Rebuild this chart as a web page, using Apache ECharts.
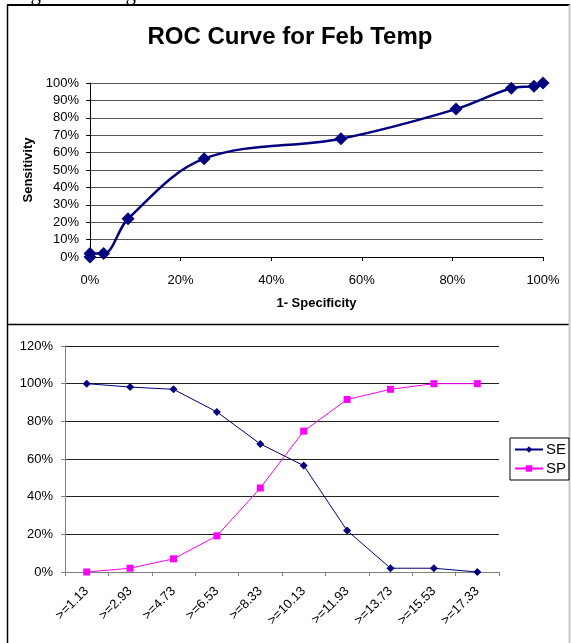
<!DOCTYPE html>
<html>
<head>
<meta charset="utf-8">
<script src="https://cdn.jsdelivr.net/npm/echarts@6/dist/echarts.min.js"></script>
<style>
  html, body { margin: 0; padding: 0; background: #fff; }
  #chart { width: 571px; height: 643px; }
</style>
</head>
<body>
<div id="chart"></div>
<script>
// Cut-off thresholds for February temperature
const thresholds = ['>=1.13', '>=2.93', '>=4.73', '>=6.53', '>=8.33', '>=10.13', '>=11.93', '>=13.73', '>=15.53', '>=17.33'];
// Sensitivity (SE) and specificity (SP) at each threshold, in percent
const sensitivity = [100, 98.2, 97, 85, 68, 56.5, 22, 2, 2, 0];
const specificity = [0, 2, 7, 19.2, 44.6, 74.8, 91.6, 97, 100, 100];
// Axis ticks
const rocTicksX = [0, 20, 40, 60, 80, 100];
const rocTicksY = [0, 10, 20, 30, 40, 50, 60, 70, 80, 90, 100];
const seSpTicksY = [0, 20, 40, 60, 80, 100, 120];

// ROC points: (1 - specificity, sensitivity), ordered by x
const rocPoints = thresholds
  .map((t, i) => [100 - specificity[i], sensitivity[i]])
  .sort((a, b) => a[0] - b[0] || a[1] - b[1]);

const FONT = 'Liberation Sans, Arial, sans-serif';
const NAVY = '#000080';
const MAGENTA = '#FF00FF';

const chart = echarts.init(document.getElementById('chart'), null, { renderer: 'canvas' });

chart.setOption({
  backgroundColor: '#fff',
  animation: false,
  textStyle: { fontFamily: FONT },
  title: [{
    text: 'ROC Curve for Feb Temp',
    left: 290,
    top: 25,
    textAlign: 'center',
    padding: 0,
    textStyle: { fontFamily: FONT, fontSize: 24, fontWeight: 'bold', color: '#000' }
  }],
  graphic: [
    { type: 'text', left: 13, top: -16,
      style: { text: 'Figure 17. Page 31.', font: '21px "Liberation Serif", "Times New Roman", serif', fill: '#000' } },
    { type: 'line', shape: { x1: 7, y1: 5, x2: 570, y2: 5 }, style: { stroke: '#000', lineWidth: 2 } },
    { type: 'line', shape: { x1: 7.5, y1: 5, x2: 7.5, y2: 643 }, style: { stroke: '#000', lineWidth: 1.5 } },
    { type: 'line', shape: { x1: 7, y1: 324.5, x2: 570, y2: 324.5 }, style: { stroke: '#000', lineWidth: 1.5 } },
    { type: 'line', shape: { x1: 569.5, y1: 5, x2: 569.5, y2: 643 }, style: { stroke: '#c8c8c8', lineWidth: 2 } }
  ],
  legend: {
    data: ['SE', 'SP'],
    orient: 'vertical',
    left: 510,
    top: 438,
    width: 58,
    padding: [4, 3, 4, 4],
    itemGap: 4,
    itemWidth: 28,
    itemHeight: 8,
    borderColor: '#000',
    borderWidth: 1,
    textStyle: { fontFamily: FONT, fontSize: 15, color: '#000', padding: [0, 0, 0, -2] }
  },
  grid: [
    { left: 90, top: 83, width: 453, height: 174 },
    { left: 65, top: 346, width: 434, height: 226 }
  ],
  xAxis: [
    {
      gridIndex: 0, type: 'value', min: rocTicksX[0], max: rocTicksX[rocTicksX.length - 1], interval: 20,
      name: '1- Specificity', nameLocation: 'middle', nameGap: 40,
      nameTextStyle: { fontFamily: FONT, fontSize: 13, fontWeight: 'bold', color: '#000' },
      axisLine: { lineStyle: { color: '#000', width: 1 } },
      axisTick: { show: true, length: 4, lineStyle: { color: '#000' } },
      axisLabel: { formatter: '{value}%', fontSize: 13, color: '#000', margin: 17 },
      splitLine: { show: false }
    },
    {
      gridIndex: 1, type: 'category', data: thresholds, boundaryGap: true,
      axisLine: { lineStyle: { color: '#808080', width: 1 } },
      axisTick: { show: true, length: 4, lineStyle: { color: '#808080' } },
      axisLabel: { interval: 0, rotate: 45, fontSize: 13, color: '#000', margin: 17 },
      splitLine: { show: false }
    }
  ],
  yAxis: [
    {
      gridIndex: 0, type: 'value', min: rocTicksY[0], max: rocTicksY[rocTicksY.length - 1], interval: 10,
      name: 'Sensitivity', nameLocation: 'middle', nameGap: 54, nameRotate: 90,
      nameTextStyle: { fontFamily: FONT, fontSize: 13, fontWeight: 'bold', color: '#000' },
      axisLine: { show: true, lineStyle: { color: '#000', width: 1 } },
      axisTick: { show: true, length: 4, lineStyle: { color: '#000' } },
      axisLabel: { formatter: '{value}%', fontSize: 13, color: '#000', margin: 11 },
      splitLine: { show: true, lineStyle: { color: '#555', width: 1 } }
    },
    {
      gridIndex: 1, type: 'value', min: seSpTicksY[0], max: seSpTicksY[seSpTicksY.length - 1], interval: 20,
      axisLine: { show: true, lineStyle: { color: '#808080', width: 1 } },
      axisTick: { show: true, length: 4, lineStyle: { color: '#808080' } },
      axisLabel: { formatter: '{value}%', fontSize: 13, color: '#000', margin: 12 },
      splitLine: { show: true, lineStyle: { color: '#222', width: 1 } }
    }
  ],
  series: [
    {
      name: 'ROC', type: 'line', xAxisIndex: 0, yAxisIndex: 0,
      data: rocPoints, smooth: 0.35,
      symbol: 'diamond', symbolSize: 13,
      lineStyle: { color: NAVY, width: 2.5 },
      itemStyle: { color: NAVY }
    },
    {
      name: 'SE', type: 'line', xAxisIndex: 1, yAxisIndex: 1,
      data: sensitivity,
      symbol: 'diamond', symbolSize: 8,
      lineStyle: { color: NAVY, width: 1 },
      itemStyle: { color: NAVY }
    },
    {
      name: 'SP', type: 'line', xAxisIndex: 1, yAxisIndex: 1,
      data: specificity,
      symbol: 'rect', symbolSize: 7,
      lineStyle: { color: MAGENTA, width: 1 },
      itemStyle: { color: MAGENTA }
    }
  ]
});
</script>
</body>
</html>
